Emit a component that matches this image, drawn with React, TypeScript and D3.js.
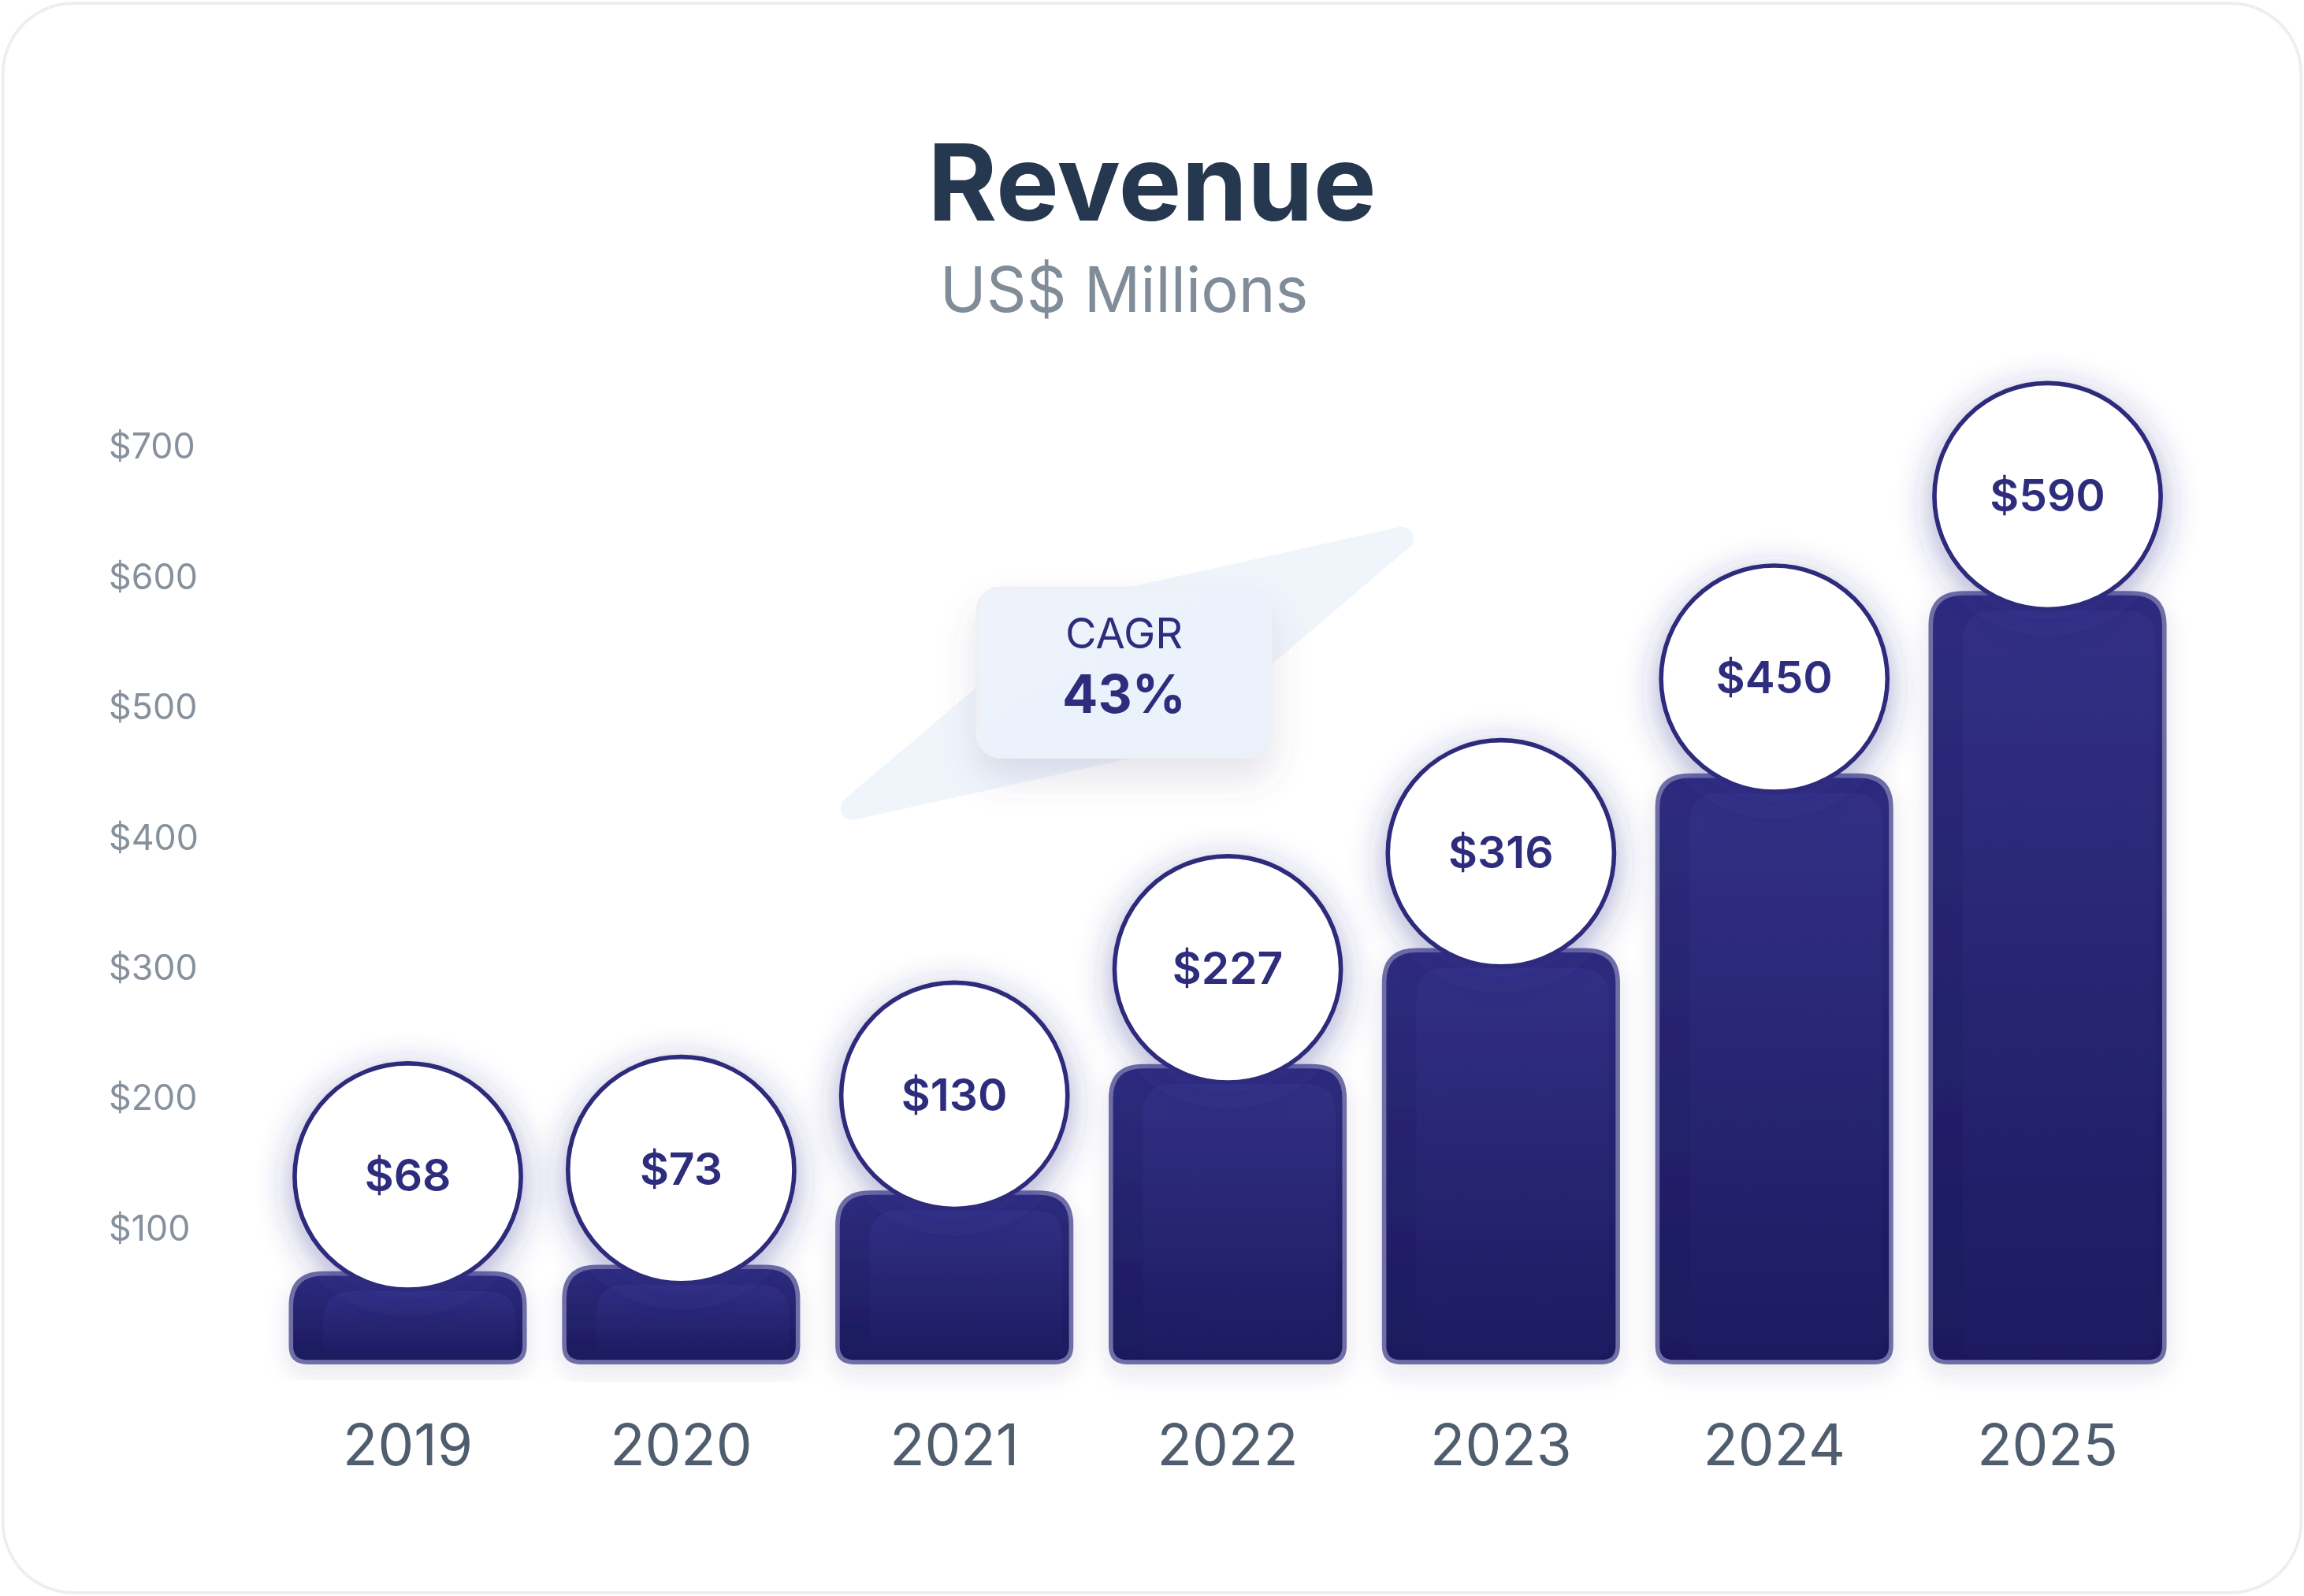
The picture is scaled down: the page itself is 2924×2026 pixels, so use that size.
import { useMemo } from "react";
import * as d3 from "d3";

const years = ["2019", "2020", "2021", "2022", "2023", "2024", "2025"];
const revenue = [68, 73, 130, 227, 316, 450, 590];
const yTicks = [100, 200, 300, 400, 500, 600, 700];
const title = "Revenue";
const subtitle = "US$ Millions";
const cagrLabel = "CAGR";
const cagrValue = "43%";

const W = 1568;
const H = 1086;
const FONT = "Inter, 'Noto Sans', sans-serif";

// rounded-top bar outline
function barPath(x: number, y: number, w: number, h: number, rt: number, rb: number) {
  return `M${x},${y + rt}
    Q${x},${y} ${x + rt},${y}
    L${x + w - rt},${y}
    Q${x + w},${y} ${x + w},${y + rt}
    L${x + w},${y + h - rb}
    Q${x + w},${y + h} ${x + w - rb},${y + h}
    L${x + rb},${y + h}
    Q${x},${y + h} ${x},${y + h - rb} Z`;
}

export default function App() {
  const x = useMemo(
    () =>
      d3
        .scaleBand<string>()
        .domain(years)
        .range([185, 1486])
        .paddingInner(0.145)
        .paddingOuter(0.07),
    []
  );
  const y = useMemo(() => d3.scaleLinear().domain([0, 700]).range([927, 306]), []);

  const bw = x.bandwidth();
  const r = 77;

  // decorative growth band behind the CAGR badge
  const bx0 = (x("2021") ?? 0) + 10;
  const bx1 = (x("2023") ?? 0) + 12;
  const p1: [number, number] = [bx0, y(425)];
  const p3: [number, number] = [bx1, y(632)];
  const p2: [number, number] = [p1[0] + 160, p1[1] - 136];
  const p4: [number, number] = [p3[0] - 160, p3[1] + 136];
  const band = d3.line()([p1, p2, p3, p4]) + "Z";

  return (
    <svg
      width={2924}
      height={2026}
      viewBox={`0 0 ${W} ${H}`}
      style={{ position: "fixed", left: 0, top: 0 }}
    >
      <defs>
        <linearGradient id="barFill" x1="0" y1="0" x2="0" y2="1">
          <stop offset="0%" stopColor="#2e2c7e" />
          <stop offset="100%" stopColor="#1b195d" />
        </linearGradient>
        <linearGradient id="barInner" x1="0" y1="0" x2="0" y2="1">
          <stop offset="0%" stopColor="#343288" />
          <stop offset="100%" stopColor="#1d1b62" />
        </linearGradient>
        <linearGradient id="boxFill" x1="0" y1="0" x2="1" y2="1">
          <stop offset="0%" stopColor="#eef3fb" />
          <stop offset="100%" stopColor="#eaf1fb" />
        </linearGradient>
        <filter id="glow" x="-50%" y="-50%" width="200%" height="200%">
          <feDropShadow dx="0" dy="6" stdDeviation="12" floodColor="#2f2b90" floodOpacity="0.42" />
        </filter>
        <filter id="boxShadow" x="-40%" y="-40%" width="180%" height="200%">
          <feDropShadow dx="0" dy="14" stdDeviation="12" floodColor="#5a5a8a" floodOpacity="0.16" />
        </filter>
        <filter id="barShadow" x="-20%" y="-20%" width="140%" height="140%">
          <feDropShadow dx="0" dy="6" stdDeviation="8" floodColor="#2a2870" floodOpacity="0.12" />
        </filter>
      </defs>

      <rect x={2} y={2} width={W - 4} height={H - 4} rx={48} fill="#ffffff" stroke="#eceef1" strokeWidth={2} />

      <text x={784} y={150} textAnchor="middle" fontFamily={FONT} fontWeight={700} fontSize={72} fill="#25384f">
        {title}
      </text>
      <text x={765} y={212} textAnchor="middle" fontFamily={FONT} fontWeight={400} fontSize={42.5} fill="#818c99">
        {subtitle}
      </text>

      {yTicks.map((t) => (
        <text key={t} x={74} y={y(t) + 6} fontFamily={FONT} fontSize={24} fill="#87919d">
          ${t}
        </text>
      ))}

      <path d={band} fill="#f0f5fc" stroke="#f0f5fc" strokeWidth={16} strokeLinejoin="round" />

      <g filter="url(#boxShadow)">
        <rect x={665} y={400} width={200} height={115} rx={16} fill="url(#boxFill)" stroke="#eef0f3" strokeWidth={2} />
      </g>
      <text x={765} y={441} textAnchor="middle" fontFamily={FONT} fontWeight={400} fontSize={29} fill="#2e2c7c">
        {cagrLabel}
      </text>
      <text x={765} y={485} textAnchor="middle" fontFamily={FONT} fontWeight={700} fontSize={36} fill="#2e2c7c">
        {cagrValue}
      </text>

      {years.map((yr, i) => {
        const bx = x(yr) ?? 0;
        const top = y(revenue[i]);
        const h = y(0) - top;
        const cx = bx + bw / 2;
        const cy = top - 66;
        return (
          <g key={yr}>
            <path
              d={barPath(bx, top, bw, h, 22, 11)}
              fill="url(#barFill)"
              stroke="#706ea6"
              strokeWidth={3}
              filter="url(#barShadow)"
            />
            <path
              d={barPath(bx + 22, top + 12, bw - 28, h - 16, 20, 8)}
              fill="url(#barInner)"
              opacity={0.7}
            />
            <circle cx={cx} cy={cy} r={r} fill="#ffffff" stroke="#2e2c7c" strokeWidth={3} filter="url(#glow)" />
            <text
              x={cx}
              y={cy + 10}
              textAnchor="middle"
              fontFamily={FONT}
              fontWeight={600}
              fontSize={30.5}
              fill="#2e2c7c"
            >
              ${revenue[i]}
            </text>
            <text
              x={cx}
              y={997}
              textAnchor="middle"
              fontFamily={FONT}
              fontWeight={400}
              fontSize={39}
              fill="#4f5d6e"
            >
              {yr}
            </text>
          </g>
        );
      })}
    </svg>
  );
}
